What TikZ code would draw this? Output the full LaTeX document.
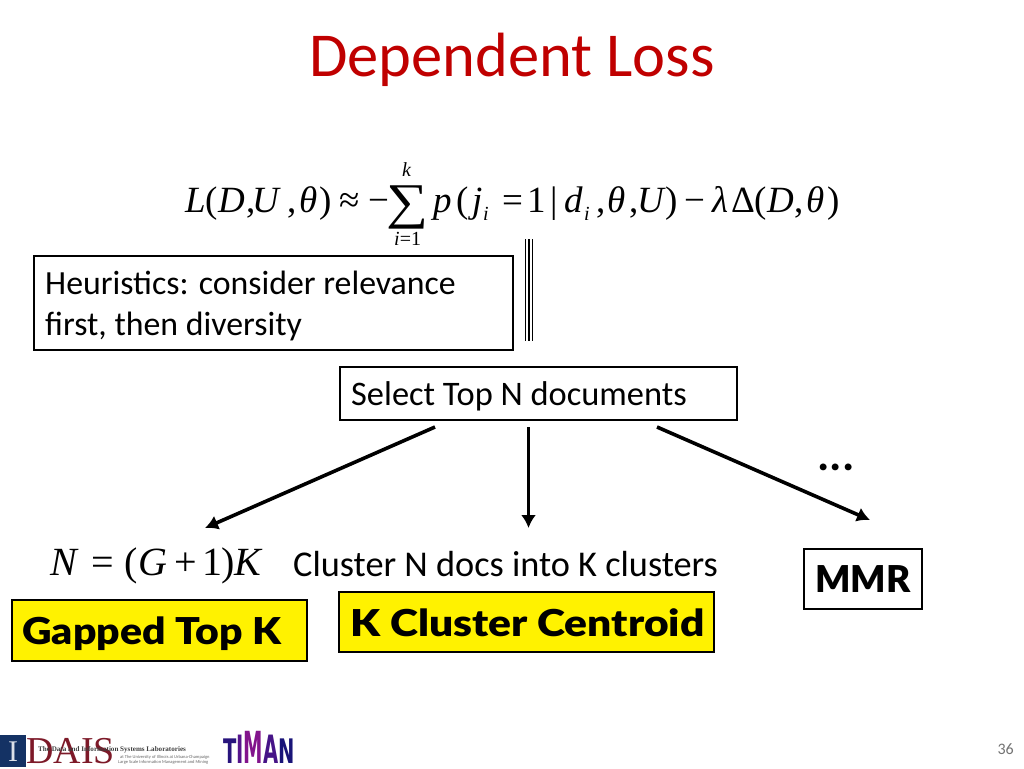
\documentclass[tikz,border=0pt]{standalone}
\usepackage{fontspec}
\setmainfont{Carlito}
\newfontfamily\eqrm{Liberation Serif}
\newfontfamily\eqit{Liberation Serif Italic}
\newfontfamily\boldlato{Lato Black}
\newfontfamily\heavy{DejaVu Sans Bold}
\usetikzlibrary{arrows.meta}
\definecolor{titlered}{RGB}{192,0,0}
\definecolor{illini}{RGB}{20,50,100}
\definecolor{daisred}{RGB}{125,25,40}
\definecolor{timana}{RGB}{40,20,125}
\definecolor{timanb}{RGB}{85,20,140}
\definecolor{timanc}{RGB}{130,20,140}
\definecolor{timand}{RGB}{70,20,135}
\definecolor{timane}{RGB}{25,20,120}
\newcommand{\timanletter}[4]{\scalebox{#2}[#3]{\textcolor{#1}{#4}}}
\tikzset{
  x=1pt,y=-1pt,
  body/.style={font=\fontsize{33.8}{41}\selectfont,text=black,inner sep=0pt,anchor=base west},
  boxed/.style={draw=black,line width=2pt,anchor=north west,inner sep=0pt,outer sep=0pt},
  yellowbox/.style={boxed,fill=yellow},
  boldlabel/.style={font=\boldlato\fontsize{37}{40}\selectfont,inner sep=0pt,anchor=base west},
  flow/.style={line width=3.6pt,-{Latex[length=13pt,width=15pt]}},
  eqi/.style={inner sep=0pt,anchor=base west,font=\eqit\fontsize{37}{37}\selectfont},
  eqr/.style={inner sep=0pt,anchor=base west,font=\eqrm\fontsize{37}{37}\selectfont},
  bigi/.style={inner sep=0pt,anchor=base west,font=\eqit\fontsize{40}{40}\selectfont},
  bigr/.style={inner sep=0pt,anchor=base west,font=\eqrm\fontsize{40}{40}\selectfont},
  eqsub/.style={inner sep=0pt,anchor=base west,font=\eqit\fontsize{20}{20}\selectfont},
}
\begin{document}
\begin{tikzpicture}
\useasboundingbox (0,0) rectangle (1024,768);
\fill[white] (0,0) rectangle (1024,768);
\node[inner sep=0pt,anchor=base,text=titlered,font=\fontsize{62.5}{66}\selectfont] (title) at (512,77) {Dependent Loss};

% equation
\foreach \px/\gl/\st in {185/L/eqi,205/(/eqr,218/D/eqi,246/{,}/eqr,252/U/eqi,287/{,}/eqr,299/θ/eqi,319/)/eqr,339/≈/eqr,368/−/eqr,433/p/eqi,456/(/eqr,472/j/eqi,502/=/eqr,527/1/eqr,550/|/eqr,564/d/eqi,596/{,}/eqr,607/θ/eqi,629/{,}/eqr,637/U/eqi,665/)/eqr,684/−/eqr,712/λ/eqi,731/Δ/eqr,754/(/eqr,767/D/eqi,794/{,}/eqr,806/θ/eqi,827/)/eqr}
  \node[\st] (g\px) at (\px,212) {\gl};
\node[inner sep=0pt,anchor=base,font=\eqrm\fontsize{50}{50}\selectfont,xscale=1.18] (sigma) at (407.5,218) {∑};
\node[eqsub] (sk) at (402,176) {k};
\node[eqsub] (si) at (394,245) {i\eqrm =1};
\node[eqsub] (e6) at (483,220) {i};
\node[eqsub] (e9) at (584,220) {i};

% triple rule
\draw[line width=1.6pt] (525.5,239) -- (525.5,341) (529,239) -- (529,341) (532.5,239) -- (532.5,341);

% boxes
\node[boxed,minimum width=479pt,minimum height=94pt] (heur) at (34,256) {};
\node[body] (heurt1) at (45,294) {Heuristics: consider relevance};
\node[body] (heurt2) at (45,335) {first, then diversity};
\node[boxed,minimum width=397pt,minimum height=53pt] (sel) at (340,367) {};
\node[body,font=\fontsize{34.4}{41}\selectfont] (selt) at (351,405) {Select Top N documents};

% arrows
\coordinate (a1s) at (435,427); \coordinate (a1e) at (205,528);
\coordinate (a2s) at (528.5,427); \coordinate (a2e) at (528.5,528);
\coordinate (a3s) at (657,427); \coordinate (a3e) at (870,520);
\draw[flow] (a1s) -- (a1e);
\draw[flow] (a2s) -- (a2e);
\draw[flow] (a3s) -- (a3e);
\node[inner sep=0pt,anchor=base,font=\bfseries\fontsize{46}{46}\selectfont] (dots) at (836,470) {...};

% lower row
\foreach \px/\gl/\st in {50/N/bigi,91/=/bigr,124/(/bigr,138/G/bigi,174/+/bigr,202/1/bigr,221/)/bigr,234/K/bigi}
  \node[\st] (h\px) at (\px,575) {\gl};
\node[body,font=\fontsize{36.3}{41}\selectfont] (cl) at (293,576) {Cluster N docs into K clusters};
\node[yellowbox,minimum width=295pt,minimum height=61pt] (gap) at (12,600) {};
\node[boldlabel,xscale=1.107] (gapt) at (22,644) {Gapped Top K};
\node[yellowbox,minimum width=375pt,minimum height=60pt] (kc) at (339,592) {};
\node[boldlabel,xscale=1.15] (kct) at (350,636) {K Cluster Centroid};
\node[boxed,minimum width=118pt,minimum height=60pt] (mmr) at (804,549) {};
\node[boldlabel] (mmrt) at (815,592) {MMR};

% logos
\fill[illini] (0,735) rectangle (26,767);
\node[inner sep=0pt,anchor=base,text=white!85!illini,font=\eqrm\fontsize{30}{30}\selectfont] (illi) at (13,761) {I};
\node[inner sep=0pt,anchor=base west,text=daisred,font=\eqrm\fontsize{38}{38}\selectfont] (dais) at (26,763) {DAIS};
\node[inner sep=0pt,anchor=base west,text=black!75,font=\eqrm\bfseries\fontsize{7.1}{8}\selectfont] (lab1) at (38,751) {The Data and Information Systems Laboratories};
\node[inner sep=0pt,anchor=base west,text=black!60,font=\fontsize{4.5}{5}\selectfont] (lab2) at (120,758) {at The University of Illinois at Urbana-Champaign};
\node[inner sep=0pt,anchor=base west,text=black!60,font=\fontsize{4.5}{5}\selectfont] (lab3) at (118,763.5) {Large Scale Information Management and Mining};
\node[inner sep=0pt,anchor=base west,font=\heavy\fontsize{26}{26}\selectfont] (timan) at (223,763) {\timanletter{timana}{.75}{1.3}{T}\timanletter{timanb}{.75}{1.5}{I}\timanletter{timanc}{.75}{1.7}{M}\timanletter{timand}{.75}{1.5}{A}\timanletter{timane}{.75}{1.3}{N}};

\node[inner sep=0pt,anchor=base east,text=black!55,font=\fontsize{16}{16}\selectfont] (pg) at (1014,754) {36};
\end{tikzpicture}
\end{document}
